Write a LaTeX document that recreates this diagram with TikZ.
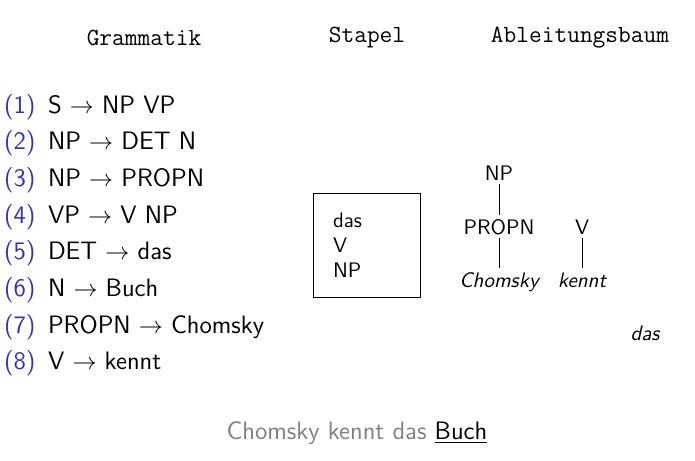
\documentclass[tikz,border=0pt]{standalone}
\usepackage{xcolor}
\definecolor{enumblue}{RGB}{51,51,178}
\begin{document}
\begin{tikzpicture}[x=0.5pt,y=-0.5pt,
  every node/.style={inner sep=0pt,outer sep=0pt},
  heading/.style={font=\ttfamily\fontsize{12.35}{14}\selectfont,anchor=base},
  rule/.style={font=\sffamily\fontsize{12.6}{15}\selectfont,anchor=base west},
  num/.style={font=\sffamily\fontsize{12.6}{15}\selectfont,anchor=base west,text=enumblue},
  stackitem/.style={font=\sffamily\fontsize{10.5}{12}\selectfont,anchor=base west},
  tree/.style={font=\sffamily\fontsize{10.5}{12}\selectfont,anchor=base,inner sep=2pt},
  word/.style={font=\sffamily\itshape\fontsize{10.5}{12}\selectfont,anchor=base,inner sep=2pt},
  edge/.style={draw,line width=0.4pt}]
\useasboundingbox (0,0) rectangle (695,460);
% headings
\node[heading] (hg) at (144,46) {Grammatik};
\node[heading] (hs) at (367,43) {Stapel};
\node[heading] (ha) at (580,43) {Ableitungsbaum};
% rules
\foreach \i/\r [evaluate=\i as \yy using {113+(\i-1)*36.7}] in
  {1/{S $\rightarrow$ NP VP},2/{NP $\rightarrow$ DET N},3/{NP $\rightarrow$ PROPN},
   4/{VP $\rightarrow$ V NP},5/{DET $\rightarrow$ das},6/{N $\rightarrow$ Buch},
   7/{PROPN $\rightarrow$ Chomsky},8/{V $\rightarrow$ kennt}}{
  \node[num] (n\i) at (4,\yy) {(\i)};
  \node[rule] (r\i) at (48,\yy) {\r};
}
% stack
\node[draw,line width=0.5pt,minimum width=53.5pt,minimum height=52pt] (stack) at (366.5,245) {};
\node[stackitem] (s1) at (333,227) {das};
\node[stackitem] (s2) at (333,252) {V};
\node[stackitem] (s3) at (333,277) {NP};
% tree
\node[tree] (np) at (499,180) {NP};
\node[tree] (propn) at (499,234) {PROPN};
\node[word] (chomsky) at (499,287) {Chomsky};
\node[tree] (v) at (582,234) {V};
\node[word] (kennt) at (582,287) {kennt};
\node[word] (das) at (645,340) {das};
\draw[edge] (np.south) -- (np.south |- propn.north);
\draw[edge] (propn.south) -- (propn.south |- chomsky.north);
\draw[edge] (v.south) -- (v.south |- kennt.north);
% sentence
\node[font=\sffamily\fontsize{12.6}{15}\selectfont,anchor=base] (sent) at (357,439)
  {\textcolor{black!50}{Chomsky kennt das} \underline{Buch}};
\end{tikzpicture}
\end{document}
